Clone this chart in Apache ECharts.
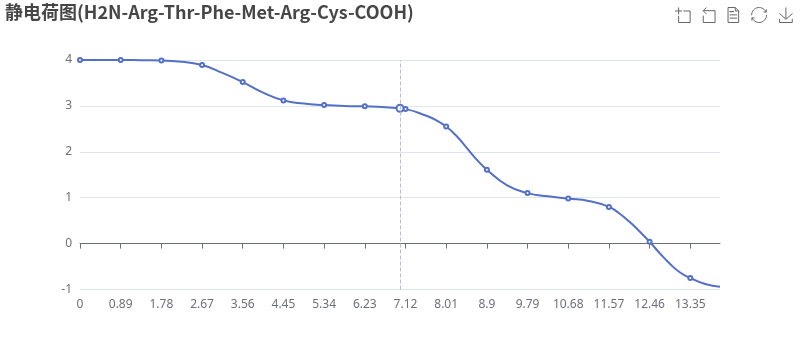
<!DOCTYPE html>
<html><head><meta charset="utf-8">
<style>html,body{margin:0;padding:0;background:#fff}#c{width:800px;height:360px}</style>
<script src="https://cdn.jsdelivr.net/npm/echarts@6/dist/echarts.min.js"></script>
</head><body><div id="c"></div>
<script>
const titleText = '静电荷图(H2N-Arg-Thr-Phe-Met-Arg-Cys-COOH)';
const tickValues = [0,0.89,1.78,2.67,3.56,4.45,5.34,6.23,7.12,8.01,8.9,9.79,10.68,11.57,12.46,13.35];
const phValues = [0,0.445,0.89,1.335,1.78,2.225,2.67,3.115,3.56,4.005,4.45,4.895,5.34,5.785,6.23,6.675,7.12,7.565,7.7875,8.01,8.2325,8.455,8.6775,8.9,9.345,9.79,10.235,10.68,11.125,11.57,11.7925,12.015,12.2375,12.46,12.6825,12.905,13.1275,13.35,13.675,14];
const chargeValues = [4,4,4,3.995,3.99,3.96,3.89,3.72,3.52,3.29,3.12,3.05,3.02,3.0,2.99,2.97,2.93,2.79,2.69,2.55,2.35,2.09,1.83,1.61,1.27,1.1,1.03,0.98,0.93,0.8,0.66,0.48,0.27,0.04,-0.21,-0.44,-0.63,-0.75,-0.88,-0.94];
const pointerPh = 7.0;
const pointerCharge = 2.95;
const chart = echarts.init(document.getElementById('c'), null, {renderer:'canvas'});
const font = '"Noto Sans","Noto Sans CJK SC",sans-serif';
chart.setOption({
  animation:false,
  textStyle:{fontFamily:font},
  title:{text:titleText,left:0,top:-2,textStyle:{fontFamily:'"Noto Sans CJK SC","Noto Sans",sans-serif',fontSize:18,fontWeight:'bold',color:'#464646'}},
  toolbox:{show:true,top:-10,right:-10,itemSize:15,itemGap:8,iconStyle:{borderColor:'#666',borderWidth:1},
    feature:{dataZoom:{},dataView:{},restore:{},saveAsImage:{}}},
  grid:{left:80,right:80,top:60,height:229.5,containLabel:false},
  xAxis:{type:'value',min:0,max:14,splitLine:{show:false},
    axisLine:{show:true,onZero:true,lineStyle:{color:'#6E7079'}},
    axisTick:{show:true,customValues:tickValues,length:5,lineStyle:{color:'#6E7079'}},
    axisLabel:{customValues:tickValues,margin:9,color:'#6E7079',fontSize:12,fontFamily:font,hideOverlap:false,formatter:v=>String(v)}},
  yAxis:{type:'value',min:-1,max:4,interval:1,axisLine:{show:false},axisTick:{show:false},
    splitLine:{lineStyle:{color:'#E0E6F1'}},axisLabel:{color:'#6E7079',fontSize:12,fontFamily:font}},
  series:[{type:'line',smooth:true,showSymbol:true,showAllSymbol:true,
    data:phValues.map((x,i)=>[x,chargeValues[i]]),
    symbol:v=>tickValues.includes(v[0])?'emptyCircle':'none',
    symbolSize:4,
    lineStyle:{color:'#5470C6',width:2},itemStyle:{color:'#5470C6',borderWidth:2},
    markLine:{silent:true,symbol:'none',label:{show:false},animation:false,
      lineStyle:{color:'#B9BEC9',type:'dashed',width:1},data:[{xAxis:pointerPh}]}
  },{type:'line',data:[[pointerPh,pointerCharge]],symbol:'emptyCircle',symbolSize:7,showSymbol:true,
    lineStyle:{width:0},itemStyle:{color:'#5470C6',borderWidth:2}}]
});
</script></body></html>
